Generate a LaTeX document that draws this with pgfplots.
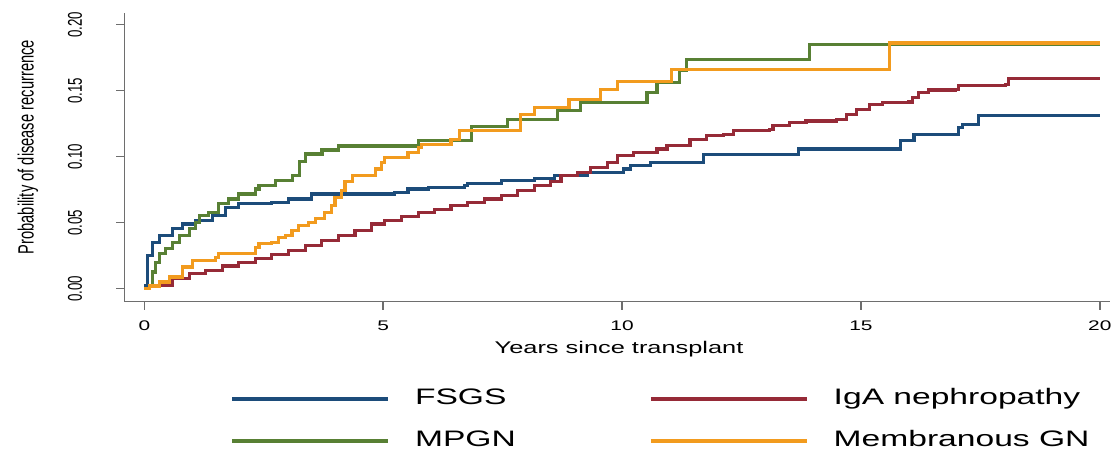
\documentclass[border=0pt]{standalone}
\usepackage{fontspec}
\setmainfont{Liberation Sans}[FakeStretch=1.5]
\newfontfamily\condfont{Liberation Sans}[FakeStretch=0.6667]
\usepackage{pgfplots}
\pgfplotsset{compat=1.18}
\definecolor{cfsgs}{RGB}{28,76,122}
\definecolor{ciga}{RGB}{150,42,55}
\definecolor{cmpgn}{RGB}{88,128,52}
\definecolor{cmem}{RGB}{242,155,30}
\definecolor{caxis}{RGB}{110,110,110}
\begin{document}
\begin{tikzpicture}
\begin{axis}[
  scale only axis,
  width=594pt, height=174pt,
  xmin=-0.4167, xmax=20.208,
  ymin=-0.0098, ymax=0.2088,
  axis x line=bottom, axis y line=left,
  axis line style={-, draw=caxis, line width=0.9pt},
  tick style={draw=caxis, line width=0.9pt},
  tick align=outside,
  major tick length=5pt,
  xtick={0,5,10,15,20},
  ytick={0,0.05,0.1,0.15,0.2},
  /pgf/number format/assume math mode=true,
  xticklabel style={font=\fontsize{8.4}{10}\selectfont},
  yticklabel style={/pgf/number format/fixed, /pgf/number format/fixed zerofill, /pgf/number format/precision=2,
     rotate=90, anchor=south, font=\condfont\fontsize{12}{12}\selectfont},
  yticklabel shift=17pt,
  xticklabel shift=3pt,
  xlabel={Years since transplant},
  ylabel={Probability of disease recurrence},
  xlabel style={at={(axis description cs:0.502,-0.166)}, anchor=center, font=\fontsize{10.2}{12}\selectfont},
  ylabel style={at={(axis description cs:-0.098,0.535)}, anchor=center, font=\condfont\fontsize{13.3}{14}\selectfont},
  legend columns=2,
  legend style={at={(axis description cs:0.102,-0.29)}, anchor=north west, draw=none, fill=none,
     font=\fontsize{13.5}{13.5}\selectfont,
     nodes={inner sep=0pt, text height=9.5pt, text depth=3pt},
     cells={anchor=west},
     row sep=12.7pt,
     /tikz/every odd column/.append style={column sep=15pt},
     /tikz/every even column/.append style={column sep=0pt}},
  legend image code/.code={\draw[#1, line width=2.4pt] (0pt,0pt) -- (94pt,0pt);},
  every axis plot/.append style={line width=1.9pt, mark=none, const plot},
]
\addplot[cfsgs] coordinates {
(0,0) (0.03,0.0025) (0.07,0.025) (0.17,0.0352) (0.31,0.0402) (0.59,0.0453) (0.8,0.049)
(1.08,0.0516) (1.42,0.0553) (1.7,0.0616) (1.98,0.0642) (2.67,0.0654) (3.02,0.0679)
(3.5,0.0717) (5.24,0.073) (5.52,0.0755) (5.94,0.0767) (6.7,0.078) (6.77,0.0797)
(7.47,0.0818) (8.16,0.0835) (8.58,0.0855) (9.27,0.088) (10.03,0.0906) (10.17,0.0931)
(10.59,0.0956) (11.7,0.1019) (13.7,0.1057) (15.83,0.112) (16.11,0.117) (17.05,0.122)
(17.12,0.1245) (17.46,0.1308) (20.0,0.1308)};
\addlegendentry{\makebox[141pt][l]{FSGS}}
\addplot[ciga] coordinates {
(0,0) (0.10,0.0025) (0.59,0.0075) (0.94,0.0113) (1.28,0.0138) (1.63,0.0171) (1.98,0.0196)
(2.33,0.0226) (2.67,0.0257) (3.02,0.0289) (3.37,0.0327) (3.71,0.0365) (4.06,0.0402)
(4.41,0.044) (4.76,0.049) (5.03,0.0516) (5.38,0.0549) (5.73,0.0574) (6.08,0.0599)
(6.42,0.0629) (6.77,0.0654) (7.12,0.0679) (7.47,0.0704) (7.81,0.0742) (8.16,0.078)
(8.51,0.081) (8.72,0.0855) (9.06,0.088) (9.34,0.0918) (9.69,0.0955) (9.9,0.1006)
(10.24,0.1031) (10.73,0.1057) (10.94,0.1082) (11.42,0.1132) (11.77,0.1157) (12.12,0.117)
(12.33,0.1195) (13.09,0.1208) (13.16,0.1233) (13.51,0.1258) (13.85,0.127) (14.48,0.1283)
(14.69,0.132) (14.9,0.1358) (15.17,0.1396) (15.45,0.1409) (16.0,0.1414) (16.08,0.1447)
(16.2,0.1484) (16.42,0.1504) (16.98,0.151) (17.05,0.154) (18.02,0.1547) (18.09,0.1592)
(20.0,0.1592)};
\addlegendentry{IgA nephropathy}
\addplot[cmpgn] coordinates {
(0,0) (0.1,0.0025) (0.17,0.0126) (0.24,0.0201) (0.31,0.0264) (0.45,0.0302) (0.59,0.0352)
(0.73,0.0402) (0.94,0.0453) (1.08,0.0503) (1.15,0.0553) (1.35,0.0579) (1.56,0.0642)
(1.77,0.0679) (1.98,0.0717) (2.33,0.0755) (2.4,0.078) (2.75,0.082) (3.1,0.086)
(3.24,0.096) (3.38,0.102) (3.72,0.105) (4.07,0.108) (5.73,0.112) (6.84,0.123) (7.6,0.128)
(8.65,0.1346) (9.13,0.141) (10.52,0.1485) (10.73,0.156) (11.2,0.165) (11.35,0.1736)
(13.92,0.185) (20.0,0.185)};
\addlegendentry{\makebox[141pt][l]{MPGN}}
\addplot[cmem] coordinates {
(0,0) (0.1,0.002) (0.31,0.005) (0.52,0.0088) (0.8,0.0164) (1.0,0.0214) (1.49,0.0239)
(1.56,0.0264) (2.33,0.0314) (2.4,0.034) (2.67,0.0352) (2.81,0.039) (2.95,0.0402)
(3.09,0.044) (3.23,0.0478) (3.44,0.0503) (3.58,0.0528) (3.78,0.0579) (3.92,0.0629)
(3.99,0.0692) (4.13,0.0742) (4.2,0.081) (4.35,0.0855) (4.83,0.0906) (4.97,0.0956)
(5.03,0.0994) (5.52,0.1031) (5.73,0.1069) (5.8,0.1094) (6.42,0.1132) (6.6,0.1195)
(7.88,0.132) (8.16,0.137) (8.89,0.1434) (9.55,0.151) (9.9,0.157) (11.04,0.166)
(15.6,0.186) (20.0,0.186)};
\addlegendentry{Membranous GN}
\end{axis}
\path (-75pt,-88.8pt) rectangle (595.2pt,181.8pt);
\end{tikzpicture}
\end{document}
